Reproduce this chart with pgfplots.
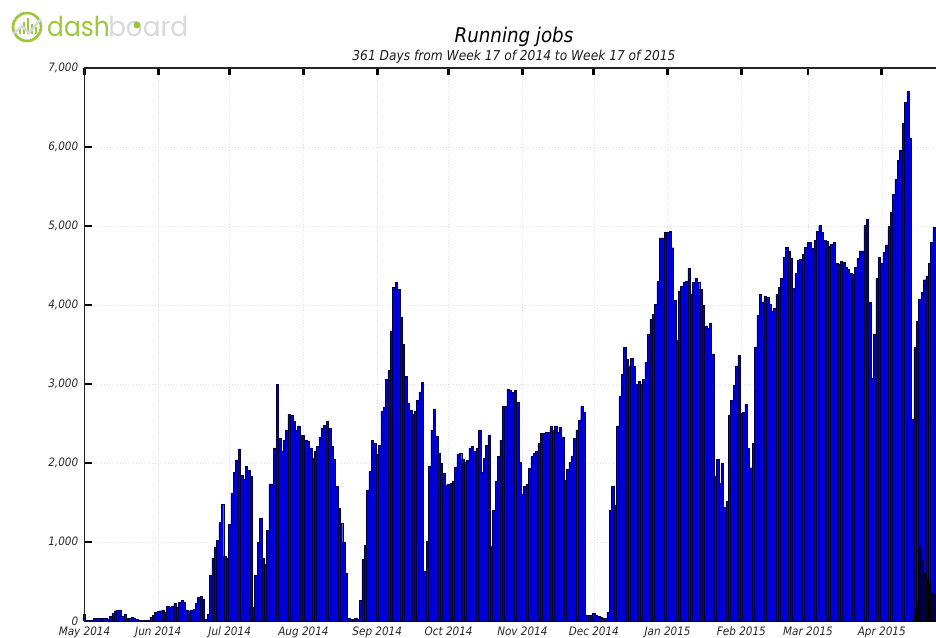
\documentclass[border=0pt]{standalone}
\usepackage{pgfplots}
\pgfplotsset{compat=1.18}
\usepackage{fontspec}
\setmainfont{DejaVu Sans Condensed}
\newfontfamily\logofont{Poppins}
\definecolor{barblue}{HTML}{0000D8}
\definecolor{baredge}{HTML}{000040}
\definecolor{barnavy}{HTML}{00004A}
\definecolor{logogreen}{HTML}{9CC63C}
\definecolor{logogray}{HTML}{D9D9D9}
\begin{document}
\begin{tikzpicture}[x=0.75pt,y=0.75pt]
\path[use as bounding box,clip] (0,0) rectangle (936,637);
\begin{axis}[
  at={(63.375pt,12pt)},anchor=south west,
  scale only axis,width=660.45pt,height=414.75pt,
  xmin=0,xmax=370,ymin=0,ymax=7000,
  axis line style={line width=1.4pt,black!85},
  tick align=inside,
  tick pos=both,
  major tick length=5.5pt,
  tick style={line width=2.2pt,black},
  xtick={0,31,61,92,123,153,184,214,245,276,304,335},
  xticklabels={May 2014,Jun 2014,Jul 2014,Aug 2014,Sep 2014,Oct 2014,Nov 2014,Dec 2014,Jan 2015,Feb 2015,Mar 2015,Apr 2015},
  ytick={0,1000,2000,3000,4000,5000,6000,7000},
  /pgf/number format/assume math mode=true,
  yticklabel style={/pgf/number format/1000 sep={,}},
  every tick label/.append style={font=\fontsize{8.7pt}{10pt}\itshape,text=black!85},
  xticklabel style={yshift=-0.8pt,text height=6.6pt,text depth=1.4pt},
  yticklabel style={xshift=-1.2pt},
  grid=major,
  grid style={dotted,line width=0.4pt,black!12},
  clip=true,
]
\addplot[ybar,bar width=1,bar shift=0pt,fill=barblue,draw=baredge,line width=0.33pt] coordinates {
(0,80)(1,10)(2,10)(3,10)(4,30)(5,30)(6,30)(7,30)(8,30)(9,30)(10,20)(11,60)(12,100)(13,130)(14,140)(15,140)
(16,60)(17,80)(18,30)(19,30)(20,50)(21,30)(22,20)(23,10)(24,10)(25,5)(26,5)(27,5)(28,50)(29,70)(30,110)
(31,120)(32,130)(33,140)(34,110)(35,190)(36,180)(37,190)(38,220)(39,170)(40,240)(41,260)(42,240)(43,140)(44,130)(45,140)(46,150)(47,230)(48,300)(49,310)(50,280)(51,20)(52,90)(53,580)(54,800)(55,930)(56,1020)(57,1250)(58,1480)(59,820)(60,790)
(61,1220)(62,1620)(63,1880)(64,2040)(65,2180)(66,1840)(67,1790)(68,1955)(69,1910)(70,1830)(71,180)(72,580)(73,1000)(74,1297)(75,795)(76,720)(77,1145)(78,1736)(79,1736)(80,2190)(81,3000)(82,2310)(83,2155)(84,2290)(85,2410)(86,2620)(87,2610)(88,2530)(89,2420)(90,2470)(91,2350)
(92,2350)(93,2290)(94,2280)(95,2190)(96,2060)(97,2150)(98,2210)(99,2330)(100,2440)(101,2480)(102,2530)(103,2440)(104,2210)(105,2050)(106,1700)(107,1430)(108,1240)(109,1000)(110,600)(111,30)(112,20)(113,20)(114,30)
(115,25)(116,265)(117,780)(118,955)(119,1660)(120,1890)(121,2290)(122,2250)(123,2110)(124,2220)(125,2650)(126,2700)(127,3060)(128,3170)(129,3670)(130,4220)(131,4290)(132,4200)(133,3840)(134,3505)(135,3100)(136,2755)(137,2670)(138,2615)(139,2650)(140,2790)(141,2900)(142,3020)
(143,625)(144,1015)(145,1965)(146,2420)(147,2685)(148,2340)(149,2120)(150,2000)(151,1870)(152,1720)(153,1730)(154,1740)(155,1775)(156,1950)(157,2110)(158,2120)(159,2045)(160,2015)(161,2030)(162,2185)(163,2215)(164,2155)(165,2185)(166,2420)(167,1880)(168,2060)(169,2220)(170,2355)(171,950)(172,1405)(173,1765)(174,2080)(175,2290)(176,2720)(177,2720)(178,2930)(179,2915)(180,2890)(181,2915)(182,2765)(183,2010)
(184,1610)(185,1700)(186,1730)(187,1930)(188,2080)(189,2120)(190,2150)(191,2250)(192,2375)(193,2375)(194,2385)(195,2390)(196,2470)(197,2410)(198,2470)(199,2390)(200,2450)(201,2330)(202,1785)(203,1920)(204,2015)(205,2090)(206,2310)(207,2420)(208,2545)(209,2715)(210,2640)(211,70)(212,70)
(213,75)(214,95)(215,70)(216,55)(217,45)(218,35)(219,35)(220,110)(221,1405)(222,1700)(223,1470)(224,2470)(225,2850)(226,3120)(227,3465)(228,3310)(229,3220)(230,3325)(231,3220)(232,3000)(233,3030)(234,3000)(235,3060)(236,3275)(237,3630)(238,3820)(239,3885)(240,4010)(241,4295)(242,4850)(243,4850)(244,4915)(245,4920)(246,4930)(247,4725)(248,4055)(249,3555)(250,4180)(251,4240)(252,4285)(253,4295)(254,4465)(255,4140)(256,4285)(257,4340)(258,4285)(259,4200)(260,4000)(261,3735)(262,3705)(263,3775)(264,3375)(265,1830)(266,2045)(267,1750)(268,2000)(269,1440)(270,1510)(271,2610)(272,2790)(273,2985)(274,3230)(275,3360)(276,2630)(277,2640)(278,2745)(279,2185)(280,1940)(281,2250)(282,3470)(283,3875)(284,4135)(285,4040)(286,4115)(287,4095)(288,4010)(289,3915)(290,3960)(291,4135)(292,4230)(293,4340)(294,4610)(295,4730)(296,4685)(297,4590)(298,4215)(299,4400)(300,4570)(301,4575)(302,4645)(303,4730)(304,4790)(305,4790)(306,4715)(307,4820)(308,4930)(309,5005)(310,4915)(311,4820)(312,4805)(313,4750)(314,4765)(315,4790)(316,4525)(317,4520)(318,4555)(319,4540)(320,4480)(321,4450)(322,4400)(323,4390)(324,4480)(325,4590)(326,4685)(327,4685)(328,5005)(329,5085)(330,4030)(331,3075)(332,3635)(333,4340)(334,4600)(335,4525)(336,4665)(337,4760)(338,4995)(339,5180)(340,5400)(341,5590)(342,5835)(343,5960)(344,6300)(345,6565)(346,6705)(347,6115)(348,2560)(349,3470)(350,3795)(351,4075)(352,4160)(353,4320)(354,4370)(355,4525)(356,4790)(357,4980)(358,4980)(359,4980)
};
\addplot[ybar,bar width=1,bar shift=0pt,fill=barnavy,draw=black,line width=0.33pt] coordinates {
(349,90)(350,200)(351,930)(352,770)(353,600)(354,535)(355,490)(356,350)(357,350)(358,350)(359,350)
};
\end{axis}
\node[font=\fontsize{15.2pt}{17pt}\itshape,text=black] at (514,600) {Running jobs};
\node[font=\fontsize{10.2pt}{12pt}\itshape,text=black!90] at (514,580) {361 Days from Week 17 of 2014 to Week 17 of 2015};
% logo
\draw[logogreen,line width=2pt] (27,610) circle (14);
\foreach \xx/\hh in {20/6,24/12,28/16,32/10,36/7}{\draw[logogreen,line width=1.4pt] (\xx,603)--(\xx,603+\hh);}
\draw[logogray,line width=1.8pt] (13,603)--(22,611)--(29,604)--(41,618);
\node[anchor=base west,inner sep=0pt,xscale=0.91,font=\logofont\fontsize{20.5pt}{22pt}\selectfont,text=logogreen] at (47,600) {dash};
\node[anchor=base west,inner sep=0pt,xscale=0.96,font=\logofont\fontsize{20.5pt}{22pt}\selectfont,text=logogray] at (108,600) {board};
\fill[logogreen] (137,612) circle (3.5);
\end{tikzpicture}
\end{document}
